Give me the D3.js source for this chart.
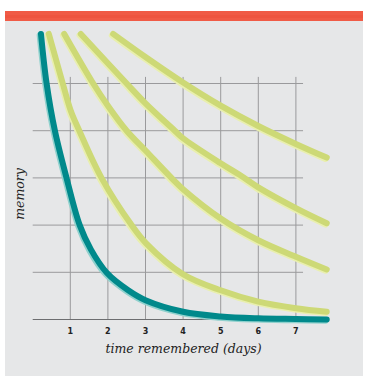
<!DOCTYPE html>
<html>
<head>
<meta charset="utf-8">
<script src="https://cdn.jsdelivr.net/npm/d3@7"></script>
<style>
  body { margin: 0; background: #fff; }
  svg { display: block; }
</style>
</head>
<body>
<script>
// tick values
var dayTicks = [1, 2, 3, 4, 5, 6, 7];
var memoryGrid = [1, 2, 3, 4, 5];

// curves: [day, memory]
var forgetting = [[0.22, 6.05], [0.37, 5.0], [0.59, 4.0], [0.9, 3.0], [1.25, 2.0], [1.55, 1.48], [1.97, 0.99],
                  [2.54, 0.62], [3.0, 0.41], [4.0, 0.165], [5.0, 0.065], [6.0, 0.025], [7.0, 0.01], [7.82, 0.0]];
var review1 = [[0.43, 6.05], [0.8, 5.0], [1.01, 4.43], [1.24, 4.0], [1.83, 3.0], [2.63, 2.0],
               [3.01, 1.62], [4.0, 0.96], [5.0, 0.62], [6.0, 0.38], [7.0, 0.24], [7.82, 0.165]];
var review2 = [[0.84, 6.05], [1.61, 5.0], [2.0, 4.53], [2.5, 4.0], [3.0, 3.58], [3.74, 2.96], [4.0, 2.76],
               [5.0, 2.14], [6.0, 1.68], [7.0, 1.33], [7.82, 1.06]];
var review3 = [[1.28, 6.05], [2.5, 5.0], [3.0, 4.58], [3.78, 4.0], [4.0, 3.84], [5.0, 3.31],
               [5.51, 3.06], [6.0, 2.8], [7.0, 2.36], [7.82, 2.04]];
var review4 = [[2.14, 6.05], [3.0, 5.56], [4.0, 5.02], [5.0, 4.53], [6.0, 4.1], [7.0, 3.72], [7.82, 3.43]];

var w = 371, h = 390;

var svg = d3.select("body").append("svg")
  .attr("width", w)
  .attr("height", h);

// panel + red header bar
svg.append("rect").attr("x", 5).attr("y", 21).attr("width", 358).attr("height", 355).attr("fill", "#e6e7e8");
svg.append("rect").attr("x", 5).attr("y", 11).attr("width", 358).attr("height", 10).attr("fill", "#f05b46");
svg.append("rect").attr("x", 5).attr("y", 15).attr("width", 358).attr("height", 3).attr("fill", "#ee5540");

var x = d3.scaleLinear().domain([0, 7]).range([32.7, 295.9]);
var y = d3.scaleLinear().domain([0, 5]).range([319.5, 83.5]);

// grid
svg.selectAll(".vgrid").data(dayTicks).enter().append("line")
  .attr("class", "vgrid")
  .attr("x1", function(d) { return x(d); }).attr("x2", function(d) { return x(d); })
  .attr("y1", y(5.14)).attr("y2", y(0))
  .attr("stroke", "#9a9a9c").attr("stroke-width", 1);

svg.selectAll(".hgrid").data(memoryGrid).enter().append("line")
  .attr("class", "hgrid")
  .attr("x1", x(0)).attr("x2", x(7.19))
  .attr("y1", function(d) { return y(d); }).attr("y2", function(d) { return y(d); })
  .attr("stroke", "#9a9a9c").attr("stroke-width", 1);

svg.append("line")
  .attr("x1", x(0)).attr("x2", x(7.85))
  .attr("y1", y(0)).attr("y2", y(0))
  .attr("stroke", "#6d6e70").attr("stroke-width", 1.2);

var line = d3.line()
  .x(function(d) { return x(d[0]); })
  .y(function(d) { return y(d[1]); })
  .curve(d3.curveCatmullRom.alpha(0.5));

function drawCurve(data, color, halo) {
  svg.append("path")
    .datum(data)
    .attr("d", line)
    .attr("transform", "translate(-1.3,1.3)")
    .attr("fill", "none")
    .attr("stroke", halo)
    .attr("stroke-width", 6)
    .attr("stroke-linecap", "round");
  svg.append("path")
    .datum(data)
    .attr("d", line)
    .attr("fill", "none")
    .attr("stroke", color)
    .attr("stroke-width", 6)
    .attr("stroke-linecap", "round");
}

[review4, review3, review2, review1].forEach(function(c) {
  drawCurve(c, "#cdd976", "#e9efae");
});
drawCurve(forgetting, "#00898b", "#8fd1cd");

// tick labels
svg.selectAll(".tick").data(dayTicks).enter().append("text")
  .attr("x", function(d) { return x(d); })
  .attr("y", 333.5)
  .attr("text-anchor", "middle")
  .style("font-family", "DejaVu Sans, sans-serif")
  .style("font-weight", "bold")
  .style("font-size", "8px")
  .attr("fill", "#222")
  .text(function(d) { return d; });

// axis titles
svg.append("text")
  .attr("x", 183.5)
  .attr("y", 353)
  .attr("text-anchor", "middle")
  .style("font-family", "DejaVu Serif, serif")
  .style("font-style", "italic")
  .style("font-size", "12.5px")
  .attr("fill", "#222")
  .text("time remembered (days)");

svg.append("text")
  .attr("transform", "translate(24,194) rotate(-90)")
  .attr("text-anchor", "middle")
  .style("font-family", "DejaVu Serif, serif")
  .style("font-style", "italic")
  .style("font-size", "12.5px")
  .attr("fill", "#222")
  .text("memory");
</script>
</body>
</html>
